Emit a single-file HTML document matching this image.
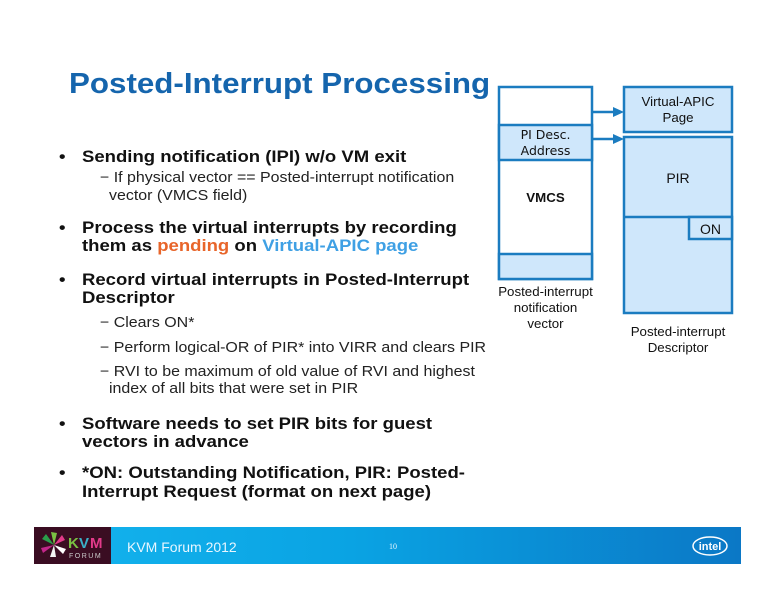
<!DOCTYPE html>
<html><head><meta charset="utf-8"><style>
*{margin:0;padding:0}
body{width:776px;height:600px;position:relative;background:#fff;font-family:"Liberation Sans",Arial,sans-serif;overflow:hidden}
.t{position:absolute;white-space:nowrap;line-height:20px;transform-origin:0 50%}
.b{font-weight:bold;font-size:17px;color:#111;transform:scaleX(1.09)}
.s{font-size:14.5px;color:#222;transform:scaleX(1.1)}
.d{position:absolute;font-size:13.3px;color:#111;text-align:center;line-height:16px}
</style></head><body>
<div class="t" style="left:69px;top:66px;font-size:29px;font-weight:bold;color:#1565ad;line-height:36px;transform:scaleX(1.08)">Posted-Interrupt Processing</div>

<div class="t b" style="left:59px;top:147px">•</div><div class="t b" style="left:82px;top:147px">Sending notification (IPI) w/o VM exit</div>
<div class="t s" style="left:100px;top:168px">− If physical vector == Posted-interrupt notification</div>
<div class="t s" style="left:109px;top:186px">vector (VMCS field)</div>

<div class="t b" style="left:59px;top:218px">•</div><div class="t b" style="left:82px;top:218px">Process the virtual interrupts by recording</div>
<div class="t b" style="left:82px;top:236px">them as <span style="color:#e8652a">pending</span> on <span style="color:#3fa0e4">Virtual-APIC page</span></div>

<div class="t b" style="left:59px;top:270px">•</div><div class="t b" style="left:82px;top:270px">Record virtual interrupts in Posted-Interrupt</div>
<div class="t b" style="left:82px;top:288px">Descriptor</div>
<div class="t s" style="left:100px;top:313px">− Clears ON*</div>
<div class="t s" style="left:100px;top:338px">− Perform logical-OR of PIR* into VIRR and clears PIR</div>
<div class="t s" style="left:100px;top:362px">− RVI to be maximum of old value of RVI and highest</div>
<div class="t s" style="left:109px;top:379px">index of all bits that were set in PIR</div>

<div class="t b" style="left:59px;top:414px">•</div><div class="t b" style="left:82px;top:414px">Software needs to set PIR bits for guest</div>
<div class="t b" style="left:82px;top:432px">vectors in advance</div>

<div class="t b" style="left:59px;top:463px">•</div><div class="t b" style="left:82px;top:463px">*ON: Outstanding Notification, PIR: Posted-</div>
<div class="t b" style="left:82px;top:482px">Interrupt Request (format on next page)</div>

<svg width="776" height="600" style="position:absolute;left:0;top:0">
<g stroke="#1b7cc0" stroke-width="2.5">
<rect x="499" y="87" width="93" height="192" fill="#fff"/>
<rect x="499" y="125" width="93" height="35" fill="#cfe7fb"/>
<rect x="499" y="254" width="93" height="25" fill="#cfe7fb"/>
<rect x="624" y="87" width="108" height="45" fill="#cfe7fb"/>
<rect x="624" y="137" width="108" height="176" fill="#cfe7fb"/>
<line x1="624" y1="217" x2="732" y2="217"/>
<rect x="689" y="217" width="43" height="22" fill="#cfe7fb"/>
<line x1="592" y1="112" x2="616" y2="112"/>
<line x1="592" y1="139" x2="616" y2="139"/>
</g>
<polygon points="613,107 624,112 613,117" fill="#1b7cc0"/>
<polygon points="613,134 624,139 613,144" fill="#1b7cc0"/>
</svg>
<div class="d" style="left:499px;top:127px;width:93px;font-size:14px;font-family:'DejaVu Sans',sans-serif;font-size:12.5px">PI Desc.<br>Address</div>
<div class="d" style="left:499px;top:190px;width:93px;font-weight:bold">VMCS</div>
<div class="d" style="left:470px;top:284px;width:151px">Posted-interrupt<br>notification<br>vector</div>
<div class="d" style="left:624px;top:94px;width:108px">Virtual-APIC<br>Page</div>
<div class="d" style="left:624px;top:170px;width:108px;font-size:14px">PIR</div>
<div class="d" style="left:689px;top:221px;width:43px;font-size:14px">ON</div>
<div class="d" style="left:600px;top:324px;width:156px">Posted-interrupt<br>Descriptor</div>

<div style="position:absolute;left:34px;top:527px;width:707px;height:37px;background:linear-gradient(90deg,#14b4ee 0%,#0aa3e3 45%,#0b78c6 100%)"></div>
<div style="position:absolute;left:34px;top:527px;width:77px;height:37px;background:#3a0d22"></div>
<svg width="77" height="37" style="position:absolute;left:34px;top:527px">
<g transform="translate(20,18)">
<path d="M0 0 L-12 -6 L-8 -11 Z" fill="#2a9d4a"/>
<path d="M0 0 L-3 -13 L3 -12 Z" fill="#7ac143"/>
<path d="M0 0 L8 -10 L11 -5 Z" fill="#e23a8a"/>
<path d="M0 0 L-13 3 L-11 8 Z" fill="#c2268a"/>
<path d="M0 0 L-4 12 L2 12 Z" fill="#f4f4f4"/>
<path d="M0 0 L9 9 L12 4 Z" fill="#ffffff"/>
</g>
<text x="34" y="21" font-family="Liberation Sans" font-weight="bold" font-size="15" fill="#7ac143">K</text>
<text x="45" y="21" font-family="Liberation Sans" font-weight="bold" font-size="15" fill="#3ab0c8">V</text>
<text x="56" y="21" font-family="Liberation Sans" font-weight="bold" font-size="15" fill="#e23a8a">M</text>
<text x="35" y="31" font-family="Liberation Sans" font-size="7" fill="#ccc" letter-spacing="1.5">FORUM</text>
</svg>
<div class="t" style="left:127px;top:537px;font-size:14px;color:#e8f6ff">KVM Forum 2012</div>
<div class="t" style="left:389px;top:537px;font-size:8px;color:#e8f6ff;font-family:'Liberation Serif',serif">10</div>
<svg width="40" height="22" style="position:absolute;left:691px;top:535px">
<ellipse cx="19" cy="11" rx="17" ry="9" fill="none" stroke="#fff" stroke-width="1.5"/>
<text x="19" y="15" text-anchor="middle" font-family="Liberation Sans" font-weight="bold" font-size="11" fill="#fff">intel</text>
</svg>
</body></html>
